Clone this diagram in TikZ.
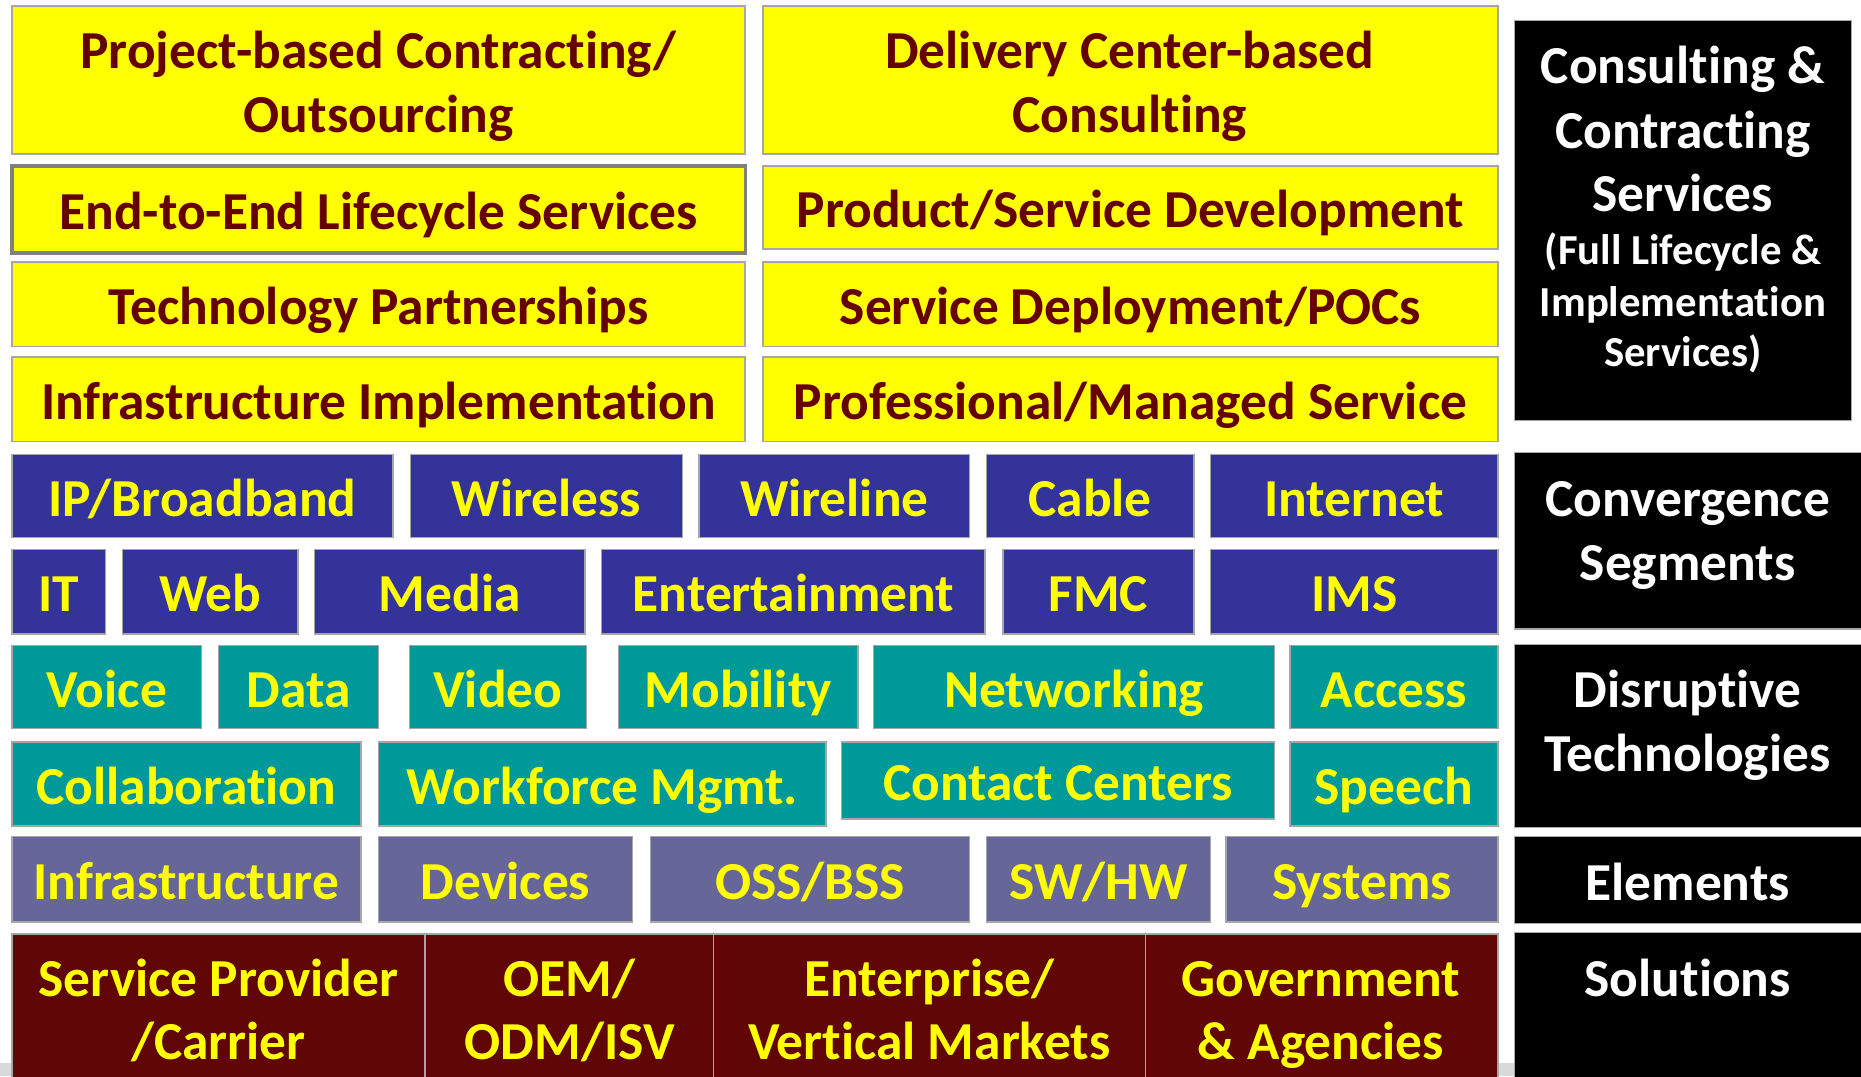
\documentclass[tikz,border=0pt]{standalone}
\usepackage{fontspec}
\setmainfont{Carlito}[Ligatures={TeX,NoCommon}]
\definecolor{yel}{HTML}{FFFF00}
\definecolor{mtext}{HTML}{660000}
\definecolor{bluebox}{HTML}{333399}
\definecolor{tealbox}{HTML}{009999}
\definecolor{slatebox}{HTML}{666699}
\definecolor{redbox}{HTML}{600606}
\definecolor{edge}{HTML}{A6A6A6}
\definecolor{stripgray}{HTML}{D9D9D9}
\tikzset{
  base/.style={rectangle, inner sep=0pt, outer sep=0pt,
    font=\bfseries\fontsize{45}{54}\selectfont,
    text height=35pt, text depth=1pt},
  ybox/.style={base, fill=yel, draw=edge, line width=1.5pt, text=mtext},
  yboxthick/.style={ybox, draw=gray, line width=3pt},
  bbox/.style={base, fill=bluebox, draw=edge, line width=1.2pt, text=yel},
  tbox/.style={base, fill=tealbox, draw=edge, line width=1.2pt, text=yel},
  sbox/.style={base, fill=slatebox, draw=edge, line width=1.2pt, text=yel},
  rbox/.style={base, fill=redbox, draw=edge, line width=1.2pt, text=yel},
  kbox/.style={base, fill=black, draw=gray!70, line width=1pt},
  lab/.style={inner sep=0pt, outer sep=0pt, font=\bfseries\fontsize{45}{54}\selectfont},
  ylabel/.style={lab, text=mtext},
  rlabel/.style={lab, text=yel},
  klabel/.style={lab, text=white},
  ksmall/.style={klabel, font=\bfseries\fontsize{36}{43}\selectfont},
}
\newcommand\cell[7]{\node[#6, anchor=north west, minimum width={(#4-#2)*1pt},
  minimum height={(#5-#3)*1pt}] (#1) at (#2pt,-#3pt) {#7};}
\newcommand\lbl[5]{\node[#4, anchor=base] (#1) at (#2pt,-#3pt) {#5};}
\begin{document}
\begin{tikzpicture}
\useasboundingbox (0,0) rectangle (1568pt,-907pt);
\fill[white] (0,0) rectangle (1568pt,-907pt);
\fill[stripgray] (0pt,-896pt) rectangle (1568pt,-907pt);
% yellow: consulting & contracting services
\cell{ya1}{10}{5}{628}{130}{ybox}{}
\cell{yb1}{643}{5}{1262}{130}{ybox}{}
\lbl{ya1a}{319}{58}{ylabel}{Project-based Contracting/}
\lbl{ya1b}{319}{112}{ylabel}{Outsourcing}
\lbl{yb1a}{952}{58}{ylabel}{Delivery Center-based}
\lbl{yb1b}{952}{112}{ylabel}{Consulting}
\cell{ya2}{10}{140}{628}{213}{yboxthick}{End-to-End Lifecycle Services}
\cell{yb2}{643}{140}{1262}{210}{ybox}{Product/Service Development}
\cell{ya3}{10}{221}{628}{292}{ybox}{Technology Partnerships}
\cell{yb3}{643}{221}{1262}{292}{ybox}{Service Deployment/POCs}
\cell{ya4}{10}{301}{628}{372}{ybox}{Infrastructure Implementation}
\cell{yb4}{643}{301}{1262}{372}{ybox}{Professional/Managed Service}
% convergence segments
\cell{ip}{10}{383}{331}{453}{bbox}{IP/Broadband}
\cell{wless}{346}{383}{575}{453}{bbox}{Wireless}
\cell{wline}{589}{383}{817}{453}{bbox}{Wireline}
\cell{cable}{831}{383}{1006}{453}{bbox}{Cable}
\cell{inet}{1020}{383}{1262}{453}{bbox}{Internet}
\cell{it}{10}{463}{89}{534}{bbox}{IT}
\cell{web}{103}{463}{251}{534}{bbox}{Web}
\cell{media}{265}{463}{493}{534}{bbox}{Media}
\cell{ent}{507}{463}{830}{534}{bbox}{Entertainment}
\cell{fmc}{845}{463}{1006}{534}{bbox}{FMC}
\cell{ims}{1020}{463}{1262}{534}{bbox}{IMS}
% disruptive technologies
\cell{voice}{10}{544}{170}{614}{tbox}{Voice}
\cell{data}{184}{544}{319}{614}{tbox}{Data}
\cell{video}{345}{544}{494}{614}{tbox}{Video}
\cell{mob}{521}{544}{723}{614}{tbox}{Mobility}
\cell{net}{736}{544}{1074}{614}{tbox}{Networking}
\cell{acc}{1087}{544}{1262}{614}{tbox}{Access}
\cell{collab}{10}{625}{304}{696}{tbox}{Collaboration}
\cell{wfm}{319}{625}{696}{696}{tbox}{Workforce Mgmt.}
\cell{cc}{709}{625}{1074}{690}{tbox}{Contact Centers}
\cell{speech}{1087}{625}{1262}{696}{tbox}{Speech}
% elements
\cell{infra}{10}{705}{304}{777}{sbox}{Infrastructure}
\cell{dev}{319}{705}{533}{777}{sbox}{Devices}
\cell{oss}{548}{705}{817}{777}{sbox}{OSS/BSS}
\cell{swhw}{831}{705}{1020}{777}{sbox}{SW/HW}
\cell{sys}{1033}{705}{1262}{777}{sbox}{Systems}
% solutions
\cell{sp}{10}{787}{358}{915}{rbox}{}
\cell{oem}{358}{787}{601}{915}{rbox}{}
\cell{entv}{601}{787}{965}{915}{rbox}{}
\cell{gov}{965}{787}{1262}{915}{rbox}{}
\lbl{spa}{184}{840}{rlabel}{Service Provider}
\lbl{spb}{184}{893}{rlabel}{/Carrier}
\lbl{oema}{480}{840}{rlabel}{OEM/}
\lbl{oemb}{480}{893}{rlabel}{ODM/ISV}
\lbl{enta}{783}{840}{rlabel}{Enterprise/}
\lbl{entb}{783}{893}{rlabel}{Vertical Markets}
\lbl{gova}{1113}{840}{rlabel}{Government}
\lbl{govb}{1113}{893}{rlabel}{\& Agencies}
% black category boxes
\cell{k1}{1276}{17}{1560}{354}{kbox}{}
\cell{k2}{1276}{381}{1572}{530}{kbox}{}
\cell{k3}{1276}{543}{1572}{697}{kbox}{}
\cell{k4}{1276}{705}{1572}{778}{kbox}{}
\cell{k5}{1276}{786}{1572}{915}{kbox}{}
\lbl{k1a}{1418}{70}{klabel}{Consulting \&}
\lbl{k1b}{1418}{125}{klabel}{Contracting}
\lbl{k1c}{1418}{178}{klabel}{Services}
\lbl{k1d}{1418}{223}{ksmall}{(Full Lifecycle \&}
\lbl{k1e}{1418}{267}{ksmall}{Implementation}
\lbl{k1f}{1418}{309}{ksmall}{Services)}
\lbl{k2a}{1422}{435}{klabel}{Convergence}
\lbl{k2b}{1422}{489}{klabel}{Segments}
\lbl{k3a}{1422}{596}{klabel}{Disruptive}
\lbl{k3b}{1422}{650}{klabel}{Technologies}
\lbl{k4a}{1422}{759}{klabel}{Elements}
\lbl{k5a}{1422}{840}{klabel}{Solutions}
\end{tikzpicture}
\end{document}
